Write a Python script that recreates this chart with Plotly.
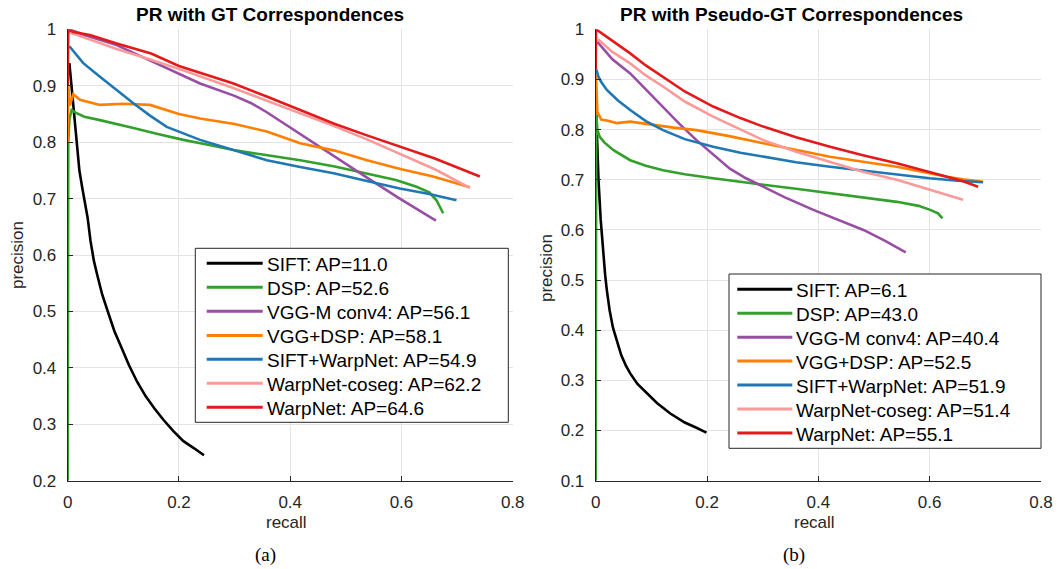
import plotly.graph_objects as go

# ---------------- Data: PR with GT correspondences (a) ----------------
gt_sift_r = [0.003, 0.008, 0.013, 0.017, 0.021, 0.026, 0.031, 0.036, 0.041, 0.047, 0.053, 0.062, 0.072, 0.084, 0.097, 0.110, 0.125, 0.140, 0.156, 0.172, 0.190, 0.208, 0.228, 0.245]
gt_sift_p = [0.94, 0.89, 0.83, 0.79, 0.75, 0.72, 0.69, 0.665, 0.625, 0.59, 0.565, 0.53, 0.50, 0.465, 0.435, 0.405, 0.375, 0.35, 0.328, 0.308, 0.288, 0.27, 0.257, 0.245]

gt_dsp_r = [0, 0.001, 0.003, 0.007, 0.015, 0.03, 0.058, 0.09, 0.118, 0.16, 0.208, 0.25, 0.298, 0.35, 0.418, 0.48, 0.538, 0.59, 0.627, 0.65, 0.663, 0.670, 0.675]
gt_dsp_p = [0.2, 0.80, 0.84, 0.857, 0.852, 0.845, 0.839, 0.831, 0.825, 0.815, 0.804, 0.796, 0.786, 0.778, 0.768, 0.757, 0.745, 0.733, 0.721, 0.711, 0.697, 0.685, 0.674]

gt_vgg_r = [0.003, 0.03, 0.088, 0.178, 0.238, 0.30, 0.33, 0.358, 0.40, 0.448, 0.538, 0.597, 0.662]
gt_vgg_p = [1.0, 0.99, 0.972, 0.931, 0.904, 0.882, 0.869, 0.853, 0.826, 0.794, 0.737, 0.700, 0.661]

gt_vggdsp_r = [0, 0.001, 0.004, 0.010, 0.022, 0.058, 0.10, 0.148, 0.20, 0.238, 0.30, 0.358, 0.418, 0.48, 0.538, 0.60, 0.657, 0.723]
gt_vggdsp_p = [0.8, 0.9, 0.865, 0.885, 0.875, 0.866, 0.868, 0.866, 0.85, 0.842, 0.832, 0.819, 0.798, 0.785, 0.768, 0.752, 0.739, 0.720]

gt_siftwarp_r = [0.003, 0.015, 0.028, 0.058, 0.088, 0.118, 0.148, 0.178, 0.238, 0.30, 0.358, 0.418, 0.478, 0.538, 0.597, 0.65, 0.699]
gt_siftwarp_p = [0.97, 0.955, 0.94, 0.916, 0.892, 0.869, 0.847, 0.827, 0.804, 0.785, 0.768, 0.756, 0.745, 0.731, 0.718, 0.708, 0.697]

gt_coseg_r = [0.002, 0.03, 0.088, 0.15, 0.214, 0.30, 0.36, 0.418, 0.48, 0.538, 0.597, 0.66, 0.723]
gt_coseg_p = [0.995, 0.985, 0.965, 0.946, 0.925, 0.895, 0.873, 0.851, 0.828, 0.805, 0.780, 0.752, 0.719]

gt_warp_r = [0, 0.001, 0.01, 0.04, 0.088, 0.15, 0.20, 0.298, 0.36, 0.418, 0.478, 0.538, 0.597, 0.66, 0.741]
gt_warp_p = [0.9, 1.0, 0.995, 0.99, 0.975, 0.957, 0.935, 0.904, 0.88, 0.857, 0.833, 0.812, 0.792, 0.771, 0.739]

gt_ap = ["11.0", "52.6", "56.1", "58.1", "54.9", "62.2", "64.6"]

# ---------------- Data: PR with Pseudo-GT correspondences (b) ----------------
ps_sift_r = [0.001, 0.005, 0.009, 0.013, 0.017, 0.020, 0.025, 0.031, 0.038, 0.046, 0.054, 0.062, 0.075, 0.092, 0.11, 0.134, 0.16, 0.18, 0.199]
ps_sift_p = [0.83, 0.70, 0.62, 0.555, 0.51, 0.48, 0.44, 0.405, 0.381, 0.35, 0.33, 0.314, 0.293, 0.274, 0.255, 0.234, 0.216, 0.206, 0.196]

ps_dsp_r = [0, 0.001, 0.003, 0.007, 0.015, 0.032, 0.062, 0.09, 0.121, 0.16, 0.211, 0.25, 0.301, 0.36, 0.421, 0.48, 0.541, 0.58, 0.601, 0.615, 0.623]
ps_dsp_p = [0.1, 0.83, 0.80, 0.786, 0.775, 0.759, 0.739, 0.728, 0.719, 0.711, 0.703, 0.697, 0.690, 0.682, 0.673, 0.665, 0.656, 0.648, 0.640, 0.633, 0.623]

ps_vgg_r = [0.003, 0.03, 0.062, 0.09, 0.121, 0.15, 0.181, 0.211, 0.241, 0.27, 0.301, 0.34, 0.391, 0.44, 0.481, 0.52, 0.557]
ps_vgg_p = [0.975, 0.94, 0.912, 0.88, 0.846, 0.812, 0.779, 0.75, 0.722, 0.703, 0.686, 0.665, 0.640, 0.618, 0.600, 0.578, 0.555]

ps_vggdsp_r = [0, 0.0005, 0.003, 0.01, 0.02, 0.038, 0.062, 0.1, 0.14, 0.181, 0.24, 0.301, 0.36, 0.421, 0.48, 0.541, 0.60, 0.631, 0.66, 0.696]
ps_vggdsp_p = [0.83, 0.91, 0.835, 0.82, 0.818, 0.813, 0.816, 0.81, 0.804, 0.799, 0.787, 0.773, 0.759, 0.746, 0.736, 0.726, 0.713, 0.706, 0.701, 0.696]

ps_siftwarp_r = [0.001, 0.005, 0.01, 0.02, 0.04, 0.062, 0.09, 0.121, 0.16, 0.211, 0.26, 0.301, 0.36, 0.421, 0.48, 0.541, 0.60, 0.65, 0.696]
ps_siftwarp_p = [0.92, 0.905, 0.895, 0.879, 0.858, 0.839, 0.817, 0.799, 0.781, 0.766, 0.754, 0.746, 0.735, 0.726, 0.718, 0.710, 0.703, 0.698, 0.695]

ps_coseg_r = [0.004, 0.03, 0.062, 0.09, 0.121, 0.16, 0.211, 0.26, 0.301, 0.36, 0.421, 0.48, 0.541, 0.60, 0.66]
ps_coseg_p = [0.98, 0.955, 0.932, 0.908, 0.886, 0.856, 0.826, 0.800, 0.779, 0.756, 0.735, 0.716, 0.700, 0.680, 0.660]

ps_warp_r = [0, 0.0005, 0.02, 0.062, 0.09, 0.121, 0.16, 0.211, 0.26, 0.301, 0.36, 0.421, 0.48, 0.541, 0.60, 0.631, 0.66, 0.687]
ps_warp_p = [0.92, 1.0, 0.985, 0.952, 0.928, 0.905, 0.876, 0.846, 0.823, 0.806, 0.785, 0.766, 0.749, 0.733, 0.716, 0.706, 0.697, 0.686]

ps_ap = ["6.1", "43.0", "40.4", "52.5", "51.9", "51.4", "55.1"]

methods = ["SIFT", "DSP", "VGG-M conv4", "VGG+DSP", "SIFT+WarpNet", "WarpNet-coseg", "WarpNet"]
colors = ["#000000", "#33a02c", "#984ea3", "#ff7f00", "#1f78b4", "#fb9a99", "#e31a1c"]

x_ticks = [0, 0.2, 0.4, 0.6, 0.8]
x_tick_labels = ["0", "0.2", "0.4", "0.6", "0.8"]
gt_y_ticks = [0.2, 0.3, 0.4, 0.5, 0.6, 0.7, 0.8, 0.9, 1.0]
gt_y_labels = ["0.2", "0.3", "0.4", "0.5", "0.6", "0.7", "0.8", "0.9", "1"]
ps_y_ticks = [0.1, 0.2, 0.3, 0.4, 0.5, 0.6, 0.7, 0.8, 0.9, 1.0]
ps_y_labels = ["0.1", "0.2", "0.3", "0.4", "0.5", "0.6", "0.7", "0.8", "0.9", "1"]

gt_series = [(gt_sift_r, gt_sift_p), (gt_dsp_r, gt_dsp_p), (gt_vgg_r, gt_vgg_p), (gt_vggdsp_r, gt_vggdsp_p),
             (gt_siftwarp_r, gt_siftwarp_p), (gt_coseg_r, gt_coseg_p), (gt_warp_r, gt_warp_p)]
ps_series = [(ps_sift_r, ps_sift_p), (ps_dsp_r, ps_dsp_p), (ps_vgg_r, ps_vgg_p), (ps_vggdsp_r, ps_vggdsp_p),
             (ps_siftwarp_r, ps_siftwarp_p), (ps_coseg_r, ps_coseg_p), (ps_warp_r, ps_warp_p)]

W, H = 1060, 569
FONT = "Liberation Sans, Arial, sans-serif"
SERIF = "Liberation Serif, Times New Roman, serif"
TXT = "#262626"

fig = go.Figure()

for i, (r, p) in enumerate(gt_series):
    fig.add_trace(go.Scatter(x=r, y=p, mode="lines", name=f"{methods[i]}: AP={gt_ap[i]}",
                             line=dict(color=colors[i], width=2.6), xaxis="x", yaxis="y",
                             showlegend=False))
for i, (r, p) in enumerate(ps_series):
    fig.add_trace(go.Scatter(x=r, y=p, mode="lines", name=f"{methods[i]}: AP={ps_ap[i]}",
                             line=dict(color=colors[i], width=2.6), xaxis="x2", yaxis="y2",
                             showlegend=False))


def px_x(px):
    return px / W


def px_y(py):
    return 1 - py / H


axis_common = dict(showline=True, linecolor=TXT, linewidth=1, mirror=False,
                   ticks="inside", ticklen=5, tickcolor=TXT, tickwidth=1,
                   showgrid=True, gridcolor="#e3e3e3", gridwidth=1, zeroline=False,
                   automargin=False,
                   tickfont=dict(family=FONT, size=17, color=TXT))

yd = [px_y(480.7), px_y(29.3)]

fig.update_layout(
    width=W, height=H,
    margin=dict(l=0, r=0, t=0, b=0, autoexpand=False),
    paper_bgcolor="white", plot_bgcolor="white",
    showlegend=False,
    xaxis=dict(domain=[px_x(67.7), px_x(512.7)], range=[0, 0.8], tickvals=x_ticks, ticktext=x_tick_labels,
               anchor="y", ticklabelstandoff=6, **axis_common),
    yaxis=dict(domain=yd, range=[0.2, 1.0], tickvals=gt_y_ticks, ticktext=gt_y_labels,
               anchor="x", ticklabelstandoff=7, **axis_common),
    xaxis2=dict(domain=[px_x(595.7), px_x(1041)], range=[0, 0.8], tickvals=x_ticks, ticktext=x_tick_labels,
                anchor="y2", ticklabelstandoff=6, **axis_common),
    yaxis2=dict(domain=yd, range=[0.1, 1.0], tickvals=ps_y_ticks, ticktext=ps_y_labels,
                anchor="x2", ticklabelstandoff=7, **axis_common),
)

# ---- legends drawn in paper space (box, line samples, labels) ----
legend_specs = [
    dict(box=(195.3, 248.3, 508.3, 422.3), line_x=(206.7, 262.7), text_x=264.5,
         rows=[263.3, 287.3, 311.3, 335.5, 359.3, 383.3, 407.3], ap=gt_ap),
    dict(box=(729.0, 274.0, 1041.0, 448.3), line_x=(737.3, 792.3), text_x=794.0,
         rows=[289.3, 313.3, 337.3, 361.0, 385.0, 409.0, 433.0], ap=ps_ap),
]
for spec in legend_specs:
    x0, y0, x1, y1 = spec["box"]
    fig.add_shape(type="rect", xref="paper", yref="paper",
                  x0=px_x(x0), x1=px_x(x1), y0=px_y(y1), y1=px_y(y0),
                  line=dict(color=TXT, width=1), fillcolor="white", layer="above")
    for i, yrow in enumerate(spec["rows"]):
        fig.add_shape(type="line", xref="paper", yref="paper",
                      x0=px_x(spec["line_x"][0]), x1=px_x(spec["line_x"][1]),
                      y0=px_y(yrow), y1=px_y(yrow),
                      line=dict(color=colors[i], width=3), layer="above")
        fig.add_annotation(text=f"{methods[i]}: AP={spec['ap'][i]}", x=px_x(spec["text_x"]), y=px_y(yrow + 1),
                           xref="paper", yref="paper", xanchor="left", yanchor="middle",
                           showarrow=False, font=dict(family=FONT, size=19, color="black"))

ann = [
    dict(text="<b>PR with GT Correspondences</b>", x=269.5, y=14, size=19, fam=FONT, color="black", angle=0),
    dict(text="<b>PR with Pseudo-GT Correspondences</b>", x=792, y=14, size=19, fam=FONT, color="black", angle=0),
    dict(text="recall", x=286.7, y=522, size=17, fam=FONT, color=TXT, angle=0),
    dict(text="recall", x=814.3, y=522, size=17, fam=FONT, color=TXT, angle=0),
    dict(text="precision", x=17, y=255, size=17, fam=FONT, color=TXT, angle=-90),
    dict(text="precision", x=547, y=268, size=17, fam=FONT, color=TXT, angle=-90),
    dict(text="(a)", x=265.5, y=555, size=19, fam=SERIF, color="black", angle=0),
    dict(text="(b)", x=793.5, y=555, size=19, fam=SERIF, color="black", angle=0),
]
for a in ann:
    fig.add_annotation(text=a["text"], x=px_x(a["x"]), y=px_y(a["y"]), xref="paper", yref="paper",
                       xanchor="center", yanchor="middle", showarrow=False, textangle=a["angle"],
                       font=dict(family=a["fam"], size=a["size"], color=a["color"]))

fig.write_html("out.html",
               config={"displayModeBar": False},
               post_script="document.body.style.margin='0';document.body.style.padding='0';"
                           "document.documentElement.style.overflow='hidden';")
